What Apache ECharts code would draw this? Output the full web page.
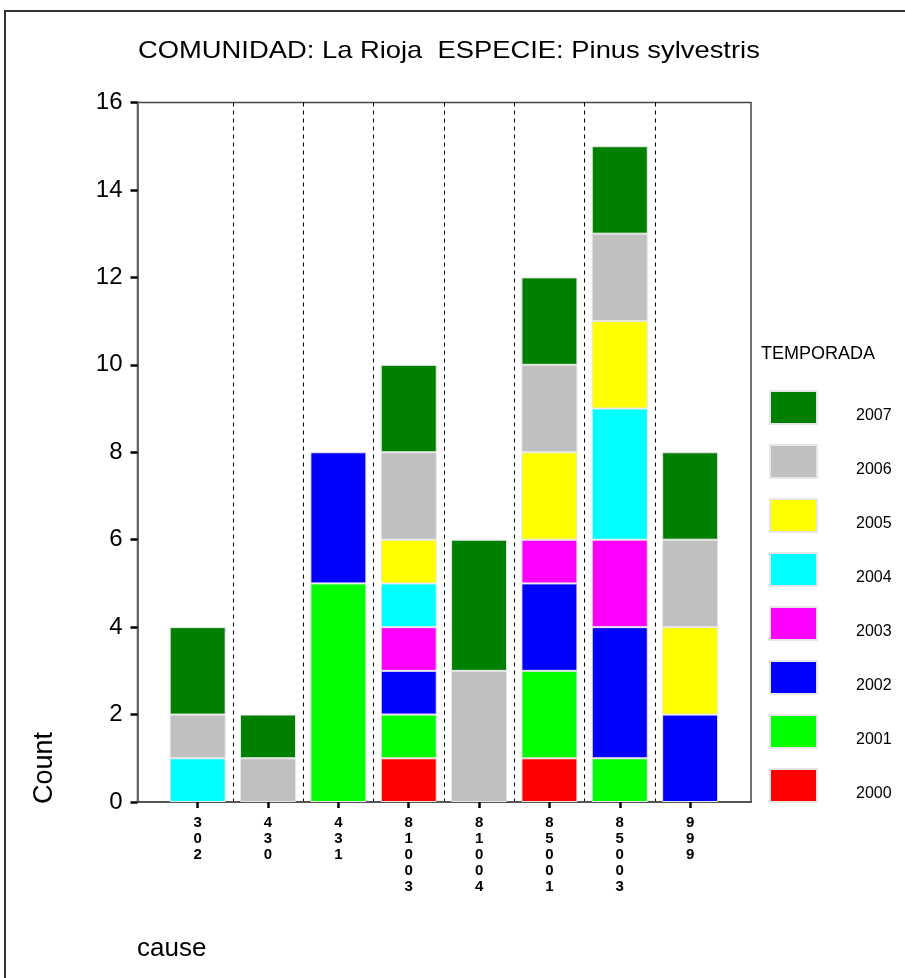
<!DOCTYPE html>
<html>
<head>
<meta charset="utf-8">
<script src="https://cdn.jsdelivr.net/npm/echarts@6/dist/echarts.min.js"></script>
<style>
html,body{margin:0;padding:0;background:#fff;}
#chart{width:905px;height:978px;}
</style>
</head>
<body>
<div id="chart"></div>
<script>
const categories = ['302', '430', '431', '81003', '81004', '85001', '85003', '999'];
const seasons = ['2000', '2001', '2002', '2003', '2004', '2005', '2006', '2007'];
const colors = ['#FF0000', '#00FF00', '#0000FF', '#FF00FF', '#00FFFF', '#FFFF00', '#C0C0C0', '#008000'];
const v2000 = [0, 0, 0, 1, 0, 1, 0, 0];
const v2001 = [0, 0, 5, 1, 0, 2, 1, 0];
const v2002 = [0, 0, 3, 1, 0, 2, 3, 2];
const v2003 = [0, 0, 0, 1, 0, 1, 2, 0];
const v2004 = [1, 0, 0, 1, 0, 0, 3, 0];
const v2005 = [0, 0, 0, 1, 0, 2, 2, 2];
const v2006 = [1, 1, 0, 2, 3, 2, 2, 2];
const v2007 = [2, 1, 0, 2, 3, 2, 2, 2];
const yTicks = [0, 2, 4, 6, 8, 10, 12, 14, 16];

const seriesValues = [v2000, v2001, v2002, v2003, v2004, v2005, v2006, v2007];
const FONT = '"Liberation Sans", Arial, sans-serif';

const chart = echarts.init(document.getElementById('chart'), null, {renderer: 'canvas'});

const series = seasons.map((s, i) => ({
  name: s,
  type: 'bar',
  stack: 'total',
  xAxisIndex: 1,
  yAxisIndex: 1,
  barWidth: 56,
  itemStyle: {color: colors[i], borderColor: '#e6e6e6', borderWidth: 1},
  emphasis: {disabled: true},
  data: seriesValues[i].map(v => (v === 0 ? '-' : v))
}));

const option = {
  animation: false,
  backgroundColor: '#ffffff',
  grid: [
    {left: 137.5, top: 102.5, width: 613.5, height: 699.5, show: true, borderColor: '#444', borderWidth: 1.5, backgroundColor: 'transparent'},
    {left: 162.5, top: 102.5, width: 562.8, height: 699.5}
  ],
  xAxis: [
    {type: 'value', gridIndex: 0, min: 0, max: 1, axisLine: {show: true, lineStyle: {color: '#555', width: 2}}, axisTick: {show: false}, axisLabel: {show: false}, splitLine: {show: false}},
    {type: 'category', gridIndex: 1, data: categories,
      axisLine: {show: true, lineStyle: {color: '#555', width: 2}},
      axisTick: {show: true, alignWithLabel: true, length: 6, lineStyle: {color: '#000', width: 2.5}},
      axisLabel: {color: '#000', fontFamily: '"Liberation Sans Narrow", "Liberation Sans", Arial, sans-serif', fontWeight: 'bold', fontSize: 15, lineHeight: 16, margin: 13,
        formatter: v => v.split('').join('\n')},
      splitLine: {show: true, showMinLine: false, showMaxLine: false, lineStyle: {color: '#000', width: 1, type: [4, 4]}}
    }
  ],
  yAxis: [
    {type: 'value', gridIndex: 0, min: yTicks[0], max: yTicks[yTicks.length - 1], interval: 2,
      axisLine: {show: true, lineStyle: {color: '#666', width: 2}},
      axisTick: {show: true, length: 7, lineStyle: {color: '#000', width: 2.5}},
      axisLabel: {color: '#000', fontFamily: FONT, fontSize: 24, margin: 15},
      splitLine: {show: false}
    },
    {type: 'value', gridIndex: 1, min: 0, max: 16, show: false}
  ],
  legend: {
    orient: 'vertical',
    left: 769,
    top: 390,
    padding: 0,
    itemWidth: 47,
    itemHeight: 33,
    itemGap: 19,
    icon: 'rect',
    selectedMode: false,
    data: seasons.slice().reverse(),
    formatter: '{t|{name}}',
    textStyle: {color: '#000', fontFamily: FONT, fontSize: 16,
      rich: {t: {color: '#000', fontFamily: FONT, fontSize: 16, lineHeight: 16, padding: [17, 0, 0, 34]}}}
  },
  graphic: [
    {type: 'rect', silent: true, shape: {x: 5, y: 11, width: 1000, height: 1000}, style: {fill: 'none', stroke: '#333', lineWidth: 2}},
    {type: 'text', silent: true, x: 138, y: 51, scaleX: 1.14, style: {text: 'COMUNIDAD: La Rioja  ESPECIE: Pinus sylvestris', fill: '#000', font: '24px ' + FONT, textVerticalAlign: 'middle', textAlign: 'left'}},
    {type: 'text', silent: true, x: 761, y: 354, style: {text: 'TEMPORADA', fill: '#000', font: '18px ' + FONT, textVerticalAlign: 'middle', textAlign: 'left'}},
    {type: 'text', silent: true, x: 45, y: 768, rotation: Math.PI / 2, style: {text: 'Count', fill: '#000', font: '27px ' + FONT, textVerticalAlign: 'middle', textAlign: 'center'}},
    {type: 'text', silent: true, x: 137, y: 949, style: {text: 'cause', fill: '#000', font: '26px ' + FONT, textVerticalAlign: 'middle', textAlign: 'left'}}
  ],
  series: series
};
chart.setOption(option);
</script>
</body>
</html>
